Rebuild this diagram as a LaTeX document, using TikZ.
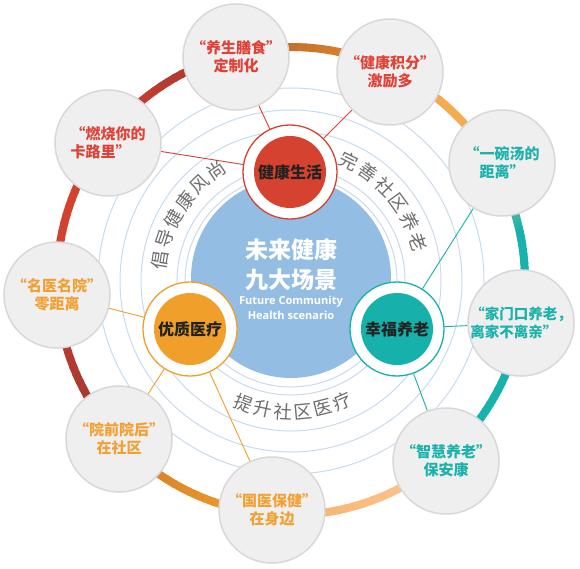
\documentclass[tikz,border=0pt]{standalone}
\usepackage{fontspec}
\newfontfamily\cjk{Noto Sans CJK SC}
\newfontfamily\lat{Open Sans}
\usetikzlibrary{calc}
\pgfdeclarelayer{bg}
\pgfdeclarelayer{lines}
\pgfsetlayers{bg,lines,main}
\definecolor{cblue}{HTML}{94BDE4}
\definecolor{cring}{HTML}{C8DBEE}
\definecolor{ogray}{HTML}{EFEFEF}
\definecolor{obord}{HTML}{D8D8D8}
\definecolor{cred}{HTML}{D5422F}
\definecolor{corange}{HTML}{F0A02A}
\definecolor{cteal}{HTML}{16B1AA}
\definecolor{tred}{HTML}{DE4238}
\definecolor{torange}{HTML}{F2A033}
\definecolor{tteal}{HTML}{1AB2AA}
\definecolor{tdark}{HTML}{222222}
\definecolor{cgray}{HTML}{6E6E6E}
\definecolor{rTeal}{HTML}{17B2AB}
\definecolor{rGreen}{HTML}{A6CB92}
\definecolor{rLOr}{HTML}{F5AE58}
\definecolor{rLOr2}{HTML}{F3A84C}
\definecolor{rOr}{HTML}{E68F2A}
\definecolor{rBrown}{HTML}{B5602D}
\definecolor{rDark}{HTML}{A0362F}
\definecolor{rRed}{HTML}{D3412F}
\definecolor{rRed2}{HTML}{C43D30}
\definecolor{rDark2}{HTML}{9C3830}
\definecolor{rBrOr}{HTML}{D27A2B}
\definecolor{rOr2}{HTML}{F1A12B}
\definecolor{rLOr3}{HTML}{F6B064}
\definecolor{rPeach}{HTML}{FAC897}
\tikzset{
  outer/.style={circle, fill=ogray, draw=obord, line width=1.5pt, minimum size=106pt, inner sep=0pt,
    font=\cjk\bfseries\fontsize{15}{18}\selectfont, text=#1, align=center},
  ringc/.style={circle, draw=#1, line width=1.3pt, fill=white, minimum size=94pt, inner sep=0pt},
  fillc/.style={circle, fill=#1, minimum size=72pt, inner sep=0pt,
    font=\cjk\bfseries\fontsize{16}{16}\selectfont, text=tdark},
  conn/.style={draw=#1, line width=0.9pt},
  thinring/.style={draw=cring, line width=1pt},
  arctext/.style={font=\cjk\fontsize{18.5}{18.5}\selectfont, text=cgray, inner sep=0pt},
  centertext/.style={font=\cjk\bfseries\fontsize{23}{23}\selectfont, text=white, inner sep=0pt},
  engtext/.style={font=\lat\bfseries\fontsize{11}{11}\selectfont, text=white, inner sep=0pt},
}
\begin{document}
\begin{tikzpicture}[x=1pt,y=1pt]
\useasboundingbox (0,0) rectangle (580,568);
\coordinate (C) at (291,287);

\begin{pgfonlayer}{bg}
  \fill[white] (0,0) rectangle (580,568);
  \foreach \r in {106,114,150,171,193} {\draw[thinring] (C) circle[radius=\r pt];}
  \foreach \sa/\ea/\ca/\cb in {-49.4/-10.6/rTeal/rTeal, -10.6/12/rTeal/rTeal, 12/29/rTeal/rGreen,
      29/64.6/rLOr/rLOr2, 64.6/104/rOr/rBrown, 104/143.2/rDark/rRed, 143.2/183.7/rRed/rRed,
      183.7/222.8/rRed2/rDark2, 222.8/265.3/rBrOr/rOr2, 265.3/310.6/rLOr3/rPeach} {
    \foreach \k in {0,...,19} {
      \pgfmathsetmacro\aa{\sa+(\ea-\sa)*\k/20}
      \pgfmathsetmacro\bb{\sa+(\ea-\sa)*(\k+1)/20+0.4}
      \pgfmathtruncatemacro\pp{100-100*\k/19}
      \draw[line width=8pt, color=\ca!\pp!\cb] (C) ++(\aa:234pt) arc[start angle=\aa, end angle=\bb, radius=234pt];
    }
  }
\end{pgfonlayer}

% centre circle
\node[circle, fill=cblue, minimum size=200pt, inner sep=0pt] (blue) at (291,290) {};
\node[centertext] (c1) at (291,318) {未来健康};
\node[centertext] (c2) at (291,288) {九大场景};
\node[engtext] (e1) at (291,266) {Future Community};
\node[engtext] (e2) at (291,253) {Health scenario};

% arc texts
\foreach \ch [count=\i from 0] in {倡,导,健,康,风,尚} {
  \pgfmathsetmacro\ang{171-9.4*\i}
  \path (C) ++(\ang:133pt) node[arctext, rotate=\ang-90] (ta\i) {\ch};
}
\foreach \ch [count=\i from 0] in {完,善,社,区,养,老} {
  \pgfmathsetmacro\ang{64-9.4*\i}
  \path (C) ++(\ang:133pt) node[arctext, rotate=\ang-90] (tb\i) {\ch};
}
\foreach \ch [count=\i from 0] in {提,升,社,区,医,疗} {
  \pgfmathsetmacro\ang{249+8.8*\i}
  \path (C) ++(\ang:131pt) node[arctext, rotate=\ang+90] (tc\i) {\ch};
}

% three theme circles
\node[ringc=cred] (rR) at (290,396) {};
\node[fillc=cred] (fR) at (290,396) {健康生活};
\node[ringc=corange] (rO) at (190,239) {};
\node[fillc=corange] (fO) at (190,239) {优质医疗};
\node[ringc=cteal] (rT) at (397,239) {};
\node[fillc=cteal] (fT) at (397,239) {幸福养老};

% outer circles
\node[outer=tred] (o1) at (236,511) {“养生膳食”\\定制化};
\node[outer=tred, align=left] (o2) at (108,425) {“燃烧你的\\卡路里”};
\node[outer=tred] (o3) at (390,496) {“健康积分”\\激励多};
\node[outer=tteal, align=left] (o4) at (502,405) {“一碗汤的\\\hphantom{“}距离”};
\node[outer=tteal, align=left, font=\cjk\bfseries\fontsize{14.5}{18}\selectfont] (o5) at (521,245) {“家门口养老，\\离家不离亲”};
\node[outer=tteal] (o6) at (446,107) {“智慧养老”\\保安康};
\node[outer=torange] (o7) at (272,58) {“国医保健”\\在身边};
\node[outer=torange] (o8) at (119,129) {“院前院后”\\在社区};
\node[outer=torange] (o9) at (57,273) {“名医名院”\\零距离};

\begin{pgfonlayer}{lines}
  \draw[conn=cred] (rR) -- (o1);
  \draw[conn=cred] (rR) -- (o2);
  \draw[conn=cred] (rR) -- (o3);
  \draw[conn=cteal] (rT) -- (o4);
  \draw[conn=cteal] (rT) -- (o5);
  \draw[conn=cteal] (rT) -- (o6);
  \draw[conn=corange] (rO) -- (o7);
  \draw[conn=corange] (rO) -- (o8);
  \draw[conn=corange] (rO) -- (o9);
\end{pgfonlayer}
\end{tikzpicture}
\end{document}
